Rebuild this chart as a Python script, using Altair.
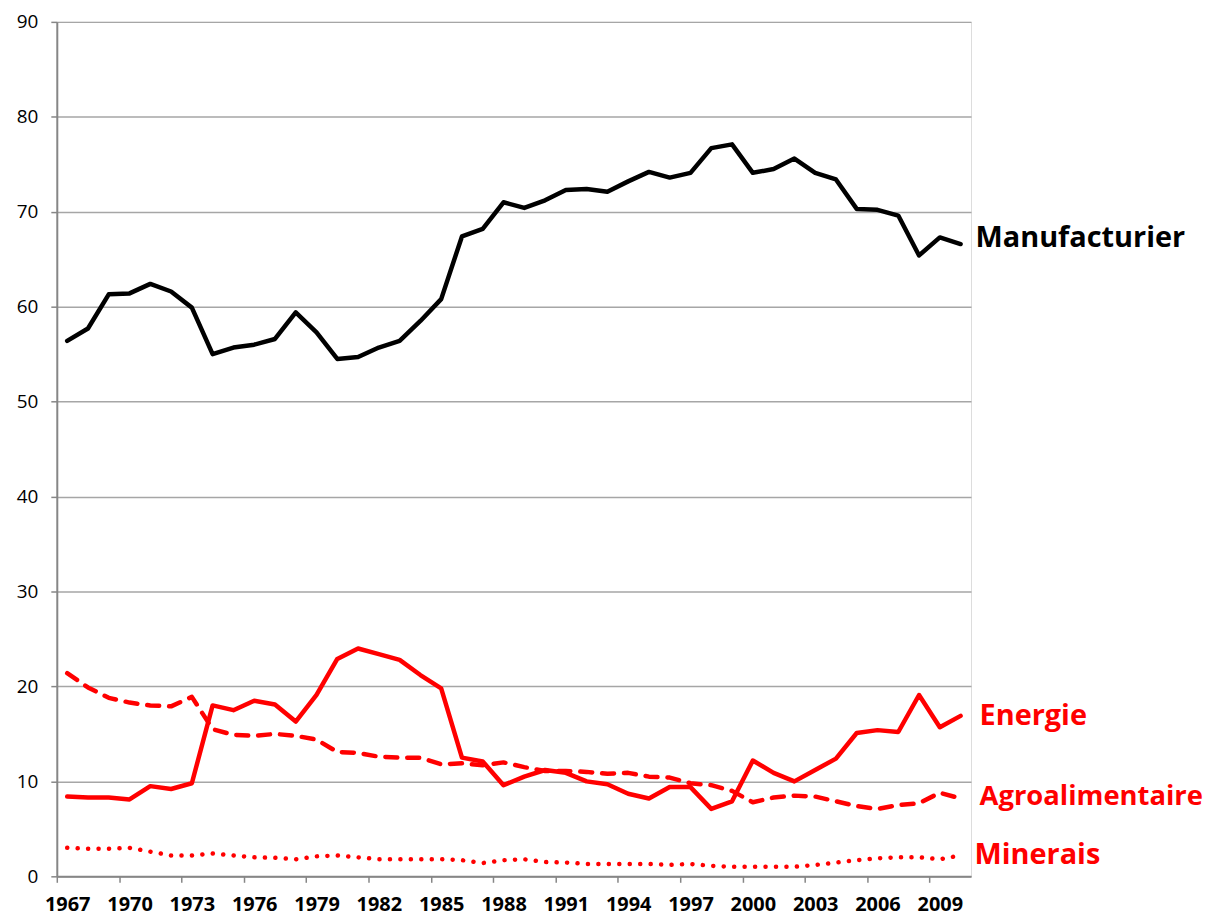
import altair as alt
import pandas as pd

years = list(range(1967, 2011))

manufacturier = [56.4, 57.7, 61.3, 61.4, 62.4, 61.6, 59.9, 55.0, 55.7, 56.0,
                 56.6, 59.4, 57.3, 54.5, 54.7, 55.7, 56.4, 58.5, 60.8, 67.4,
                 68.2, 71.0, 70.4, 71.2, 72.3, 72.4, 72.1, 73.2, 74.2, 73.6,
                 74.1, 76.7, 77.1, 74.1, 74.5, 75.6, 74.1, 73.4, 70.3, 70.2,
                 69.6, 65.4, 67.3, 66.6]

energie = [8.4, 8.3, 8.3, 8.1, 9.5, 9.2, 9.8, 18.0, 17.5, 18.5,
           18.1, 16.3, 19.1, 22.9, 24.0, 23.4, 22.8, 21.2, 19.8, 12.5,
           12.1, 9.6, 10.5, 11.2, 10.9, 10.0, 9.7, 8.7, 8.2, 9.4,
           9.4, 7.1, 7.9, 12.2, 10.9, 10.0, 11.2, 12.4, 15.1, 15.4,
           15.2, 19.1, 15.7, 16.9]

agro = [21.4, 19.9, 18.8, 18.3, 18.0, 17.9, 18.9, 15.5, 14.9, 14.8,
        15.0, 14.8, 14.4, 13.1, 13.0, 12.6, 12.5, 12.5, 11.8, 11.9,
        11.7, 12.0, 11.5, 11.1, 11.1, 11.0, 10.8, 10.9, 10.5, 10.4,
        9.8, 9.6, 9.0, 7.8, 8.3, 8.5, 8.4, 7.9, 7.4, 7.1,
        7.5, 7.7, 8.8, 8.2]

minerais = [3.0, 2.9, 2.9, 3.0, 2.6, 2.2, 2.2, 2.4, 2.2, 2.0,
            1.95, 1.8, 2.1, 2.2, 2.0, 1.8, 1.8, 1.8, 1.8, 1.7,
            1.4, 1.7, 1.8, 1.5, 1.45, 1.3, 1.3, 1.3, 1.3, 1.2,
            1.3, 1.1, 1.0, 1.0, 1.0, 1.0, 1.2, 1.45, 1.7, 1.9,
            2.0, 2.0, 1.8, 2.2]

series_names = ["Manufacturier", "Energie", "Agroalimentaire", "Minerais"]

df = pd.DataFrame({"year": years, "Manufacturier": manufacturier,
                   "Energie": energie, "Agroalimentaire": agro,
                   "Minerais": minerais})

W = 918
H = 858
n_cat = len(years)
half = W / n_cat / 2

tick_vals = [y - 0.5 for y in range(1967, 2010, 3)]
x_scale = alt.Scale(domain=[1966.5, 2010.5], nice=False, zero=False)

x_enc = alt.X("year:Q", scale=x_scale,
              axis=alt.Axis(values=tick_vals, title=None, grid=False,
                            labelExpr="format(datum.value + 0.5, 'd')",
                            labelOffset=half, labelFlush=False,
                            labelOverlap=False, tickSize=6,
                            tickColor="#868686", tickWidth=1.5,
                            domainColor="#868686", domainWidth=2,
                            labelFont="Open Sans", labelFontSize=20,
                            labelFontWeight="bold", labelColor="#000000",
                            labelPadding=12))

y_scale = alt.Scale(domain=[0, 90], nice=False, zero=True)
y_axis = alt.Axis(values=list(range(0, 91, 10)), title=None, grid=True,
                  gridColor="#A6A6A6", gridWidth=1.5, tickSize=6,
                  tickColor="#868686", tickWidth=1.5, domainColor="#868686",
                  domainWidth=2, labelFont="Open Sans", labelFontSize=19,
                  labelColor="#000000", labelPadding=13)

base = alt.Chart(df)


def line(field, color, dash=None, cap="round"):
    kw = dict(color=color, strokeWidth=4.5, strokeJoin="round", strokeCap=cap)
    if dash is not None:
        kw["strokeDash"] = dash
    return base.mark_line(**kw).encode(
        x=x_enc,
        y=alt.Y(f"{field}:Q", scale=y_scale, axis=y_axis),
    )


l_manu = line("Manufacturier", "#000000")
l_ener = line("Energie", "#FF0000")
l_agro = line("Agroalimentaire", "#FF0000", dash=[12, 10])
l_mine = line("Minerais", "#FF0000", dash=[0.1, 10.4])

last = df.iloc[[-1]]


def label(field, color, dx, dy, size=29):
    return alt.Chart(last).transform_calculate(lab=f"'{field}'").mark_text(
        align="left", baseline="middle", font="Open Sans", fontSize=size,
        fontWeight="bold", color=color, dx=dx, dy=dy
    ).encode(
        x=alt.X("year:Q", scale=x_scale),
        y=alt.Y(f"{field}:Q", scale=y_scale),
        text="lab:N",
    )


t_manu = label("Manufacturier", "#000000", 15, -6)
t_ener = label("Energie", "#FF0000", 19, 0)
t_agro = label("Agroalimentaire", "#FF0000", 19, -1, size=27.5)
t_mine = label("Minerais", "#FF0000", 14, 0)

chart = alt.layer(l_manu, l_ener, l_agro, l_mine,
                  t_manu, t_ener, t_agro, t_mine).properties(
    width=W, height=H,
    autosize=alt.AutoSizeParams(type="none"),
    padding={"left": 49, "top": 12, "right": 240, "bottom": 60},
).configure_view(stroke=None).configure(background="#ffffff")

chart.save("out.html", embed_options={"renderer": "svg", "actions": False})
